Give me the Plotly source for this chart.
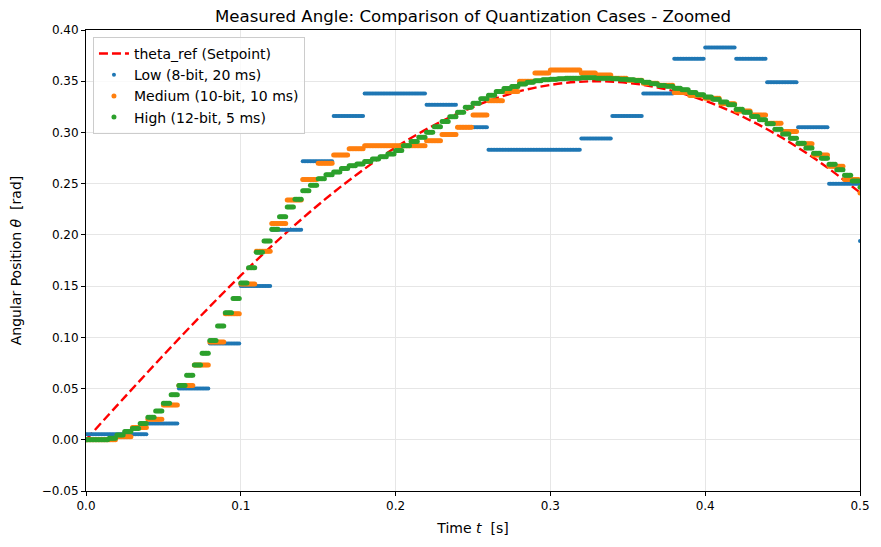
import plotly.graph_objects as go

# ---------------- data ----------------
# Reference trajectory theta_ref, sampled every 25 ms
ref_t = [0.0, 0.025, 0.05, 0.075, 0.1, 0.125, 0.15, 0.175, 0.2, 0.225, 0.25,
         0.275, 0.3, 0.325, 0.35, 0.375, 0.4, 0.425, 0.45, 0.475, 0.5]
ref_theta = [0.0, 0.0416, 0.0825, 0.1223, 0.1604, 0.1961, 0.2292, 0.259, 0.2853,
             0.3072, 0.3248, 0.3381, 0.3464, 0.3499, 0.3484, 0.342, 0.3308,
             0.3148, 0.2945, 0.27, 0.2413]

# Held (quantized) measured values, one per sample period
low_hold_ms = 20
low_vals = [0.0055, 0.0055, 0.016, 0.050, 0.094, 0.150, 0.205, 0.272, 0.316, 0.338,
            0.338, 0.327, 0.305, 0.283, 0.283, 0.283, 0.294, 0.316, 0.338, 0.372,
            0.383, 0.372, 0.349, 0.305, 0.250, 0.194]

med_hold_ms = 10
med_vals = [0.0, 0.0, 0.003, 0.012, 0.020, 0.034, 0.053, 0.073, 0.0955, 0.123,
            0.152, 0.184, 0.211, 0.234, 0.254, 0.270, 0.278, 0.284, 0.287, 0.287,
            0.287, 0.287, 0.292, 0.298, 0.305, 0.317, 0.331, 0.340, 0.350, 0.358,
            0.361, 0.361, 0.358, 0.356, 0.353, 0.351, 0.348, 0.346, 0.339, 0.336,
            0.3335, 0.328, 0.321, 0.317, 0.309, 0.301, 0.289, 0.278, 0.267, 0.254,
            0.241]

high_hold_ms = 5
high_vals = [0.0, 0.0, 0.0, 0.0015, 0.0047, 0.008, 0.011, 0.016, 0.022, 0.028,
             0.0356, 0.044, 0.053, 0.063, 0.073, 0.0845, 0.097, 0.111, 0.124, 0.138,
             0.153, 0.168, 0.183, 0.194, 0.2055, 0.2176, 0.2273, 0.2348, 0.243, 0.2485,
             0.2547, 0.2586, 0.2615, 0.2647, 0.2674, 0.2693, 0.2716, 0.274, 0.2762, 0.279,
             0.2823, 0.2869, 0.2911, 0.2954, 0.3003, 0.3055, 0.3107, 0.3152, 0.3198, 0.3247,
             0.3286, 0.3328, 0.3364, 0.340, 0.3429, 0.3448, 0.3472, 0.3491, 0.3504, 0.3514,
             0.352, 0.3525, 0.353, 0.353, 0.3535, 0.3535, 0.353, 0.353, 0.3525, 0.352,
             0.3515, 0.3507, 0.349, 0.3475, 0.3458, 0.345, 0.3432, 0.3416, 0.339, 0.3367,
             0.3345, 0.3325, 0.3296, 0.327, 0.3227, 0.3198, 0.3155, 0.3123, 0.3084, 0.3032,
             0.2986, 0.2944, 0.2895, 0.2847, 0.2798, 0.2749, 0.269, 0.2635, 0.2583, 0.2527,
             0.2466]

sim_step_ms = 1
t_end_ms = 500

x_ticks = [0.0, 0.1, 0.2, 0.3, 0.4, 0.5]
y_ticks = [-0.05, 0.0, 0.05, 0.10, 0.15, 0.20, 0.25, 0.30, 0.35, 0.40]

# ---------------- build dense (zero-order-hold) sample series ----------------
t_ms = list(range(0, t_end_ms + 1, sim_step_ms))
t_s = [m / 1000.0 for m in t_ms]


def held(vals, hold):
    return [vals[m // hold] for m in t_ms]


low_y = held(low_vals, low_hold_ms)
med_y = held(med_vals, med_hold_ms)
high_y = held(high_vals, high_hold_ms)

FONT = "DejaVu Sans"

fig = go.Figure()
fig.add_trace(go.Scatter(x=ref_t, y=ref_theta, mode="lines",
                         name="theta_ref (Setpoint)",
                         line=dict(color="#ff0000", width=2.4, dash="9px,4px", shape="spline")))
fig.add_trace(go.Scatter(x=t_s, y=low_y, mode="markers", name="Low (8-bit, 20 ms)",
                         marker=dict(color="#1f77b4", size=4, line=dict(width=0))))
fig.add_trace(go.Scatter(x=t_s, y=med_y, mode="markers", name="Medium (10-bit, 10 ms)",
                         marker=dict(color="#ff7f0e", size=5, line=dict(width=0))))
fig.add_trace(go.Scatter(x=t_s, y=high_y, mode="markers", name="High (12-bit, 5 ms)",
                         marker=dict(color="#2ca02c", size=5, line=dict(width=0))))

axis_common = dict(showline=True, linecolor="black", linewidth=1, mirror=True,
                   ticks="outside", ticklen=4, tickwidth=1, tickcolor="black",
                   showgrid=True, gridcolor="#e6e6e6", gridwidth=1, zeroline=False,
                   tickfont=dict(family=FONT, size=12, color="black"))

fig.update_layout(
    width=881, height=547,
    margin=dict(l=86, r=21, t=30, b=56),
    paper_bgcolor="white", plot_bgcolor="white",
    font=dict(family=FONT, size=12, color="black"),
    title=dict(text="Measured Angle: Comparison of Quantization Cases - Zoomed",
               x=0.5, xref="paper", xanchor="center",
               y=1 - 16 / 547, yref="container", yanchor="middle",
               font=dict(family=FONT, size=16.6, color="black")),
    xaxis=dict(range=[0, 0.5], tickvals=x_ticks,
               ticktext=[f"{v:.1f}" for v in x_ticks],
               title=dict(text="Time <i>t</i>\u00a0 [s]", standoff=10,
                          font=dict(family=FONT, size=14)),
               **axis_common),
    yaxis=dict(range=[-0.05, 0.40], tickvals=y_ticks,
               ticktext=[(f"{v:.2f}" if v >= 0 else "\u2212" + f"{abs(v):.2f}") for v in y_ticks],
               title=dict(text="Angular Position <i>θ</i>\u00a0 [rad]", standoff=16,
                          font=dict(family=FONT, size=14)),
               **axis_common),
    legend=dict(x=0.009, y=0.985, xanchor="left", yanchor="top",
                bgcolor="rgba(255,255,255,0.8)", bordercolor="#cccccc", borderwidth=1,
                font=dict(family=FONT, size=14, color="black"),
                itemwidth=30, tracegroupgap=0),
    showlegend=True,
)

fig.write_html("out.html")
